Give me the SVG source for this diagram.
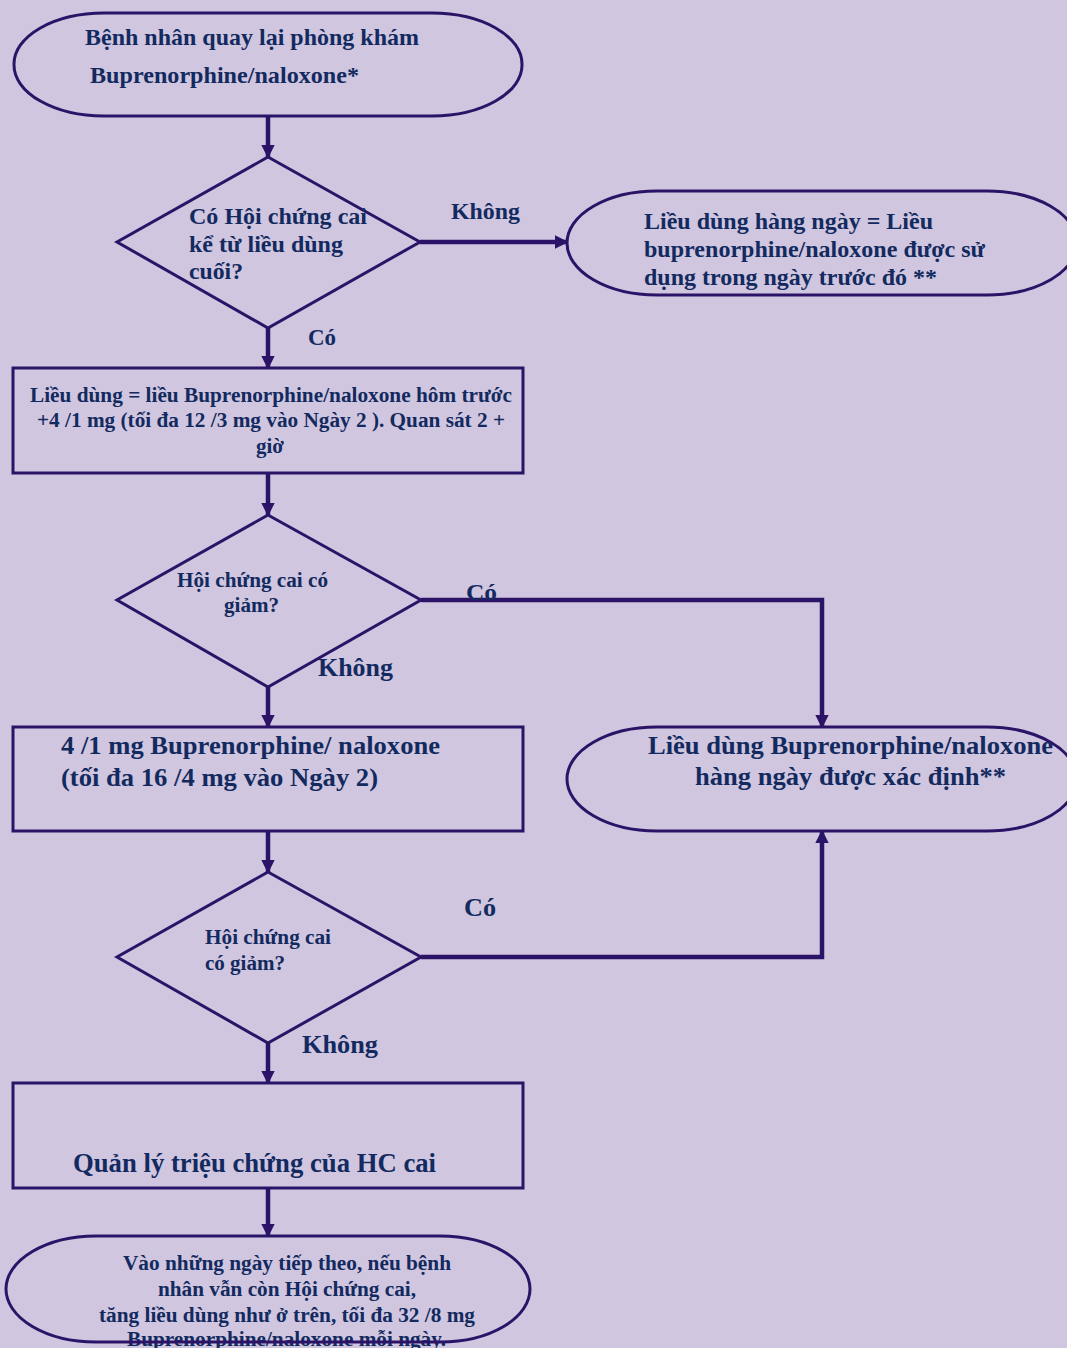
<svg xmlns="http://www.w3.org/2000/svg" width="1067" height="1348" viewBox="0 0 1067 1348">
  <style>
    .shape { fill: none; stroke: #2b1468; stroke-width: 3; }
    .conn { fill: none; stroke: #2b1468; stroke-width: 4.5; }
    text { font-family: "Liberation Serif", "Times New Roman", serif; font-weight: bold; fill: #132a60; }
    .t22 { font-size: 24px; }
    .t23 { font-size: 25px; }
    .t21 { font-size: 23px; }
    .t19 { font-size: 20.5px; }
    .t18 { font-size: 20px; }
    .t24 { font-size: 26.5px; }
  </style>
  <defs>
    <marker id="arrow" viewBox="0 0 10 10" refX="9" refY="5" markerWidth="3" markerHeight="3" orient="auto">
      <path d="M0,0 L10,5 L0,10 z" fill="#2b1468"/>
    </marker>
  </defs>

  <rect x="0" y="0" width="1067" height="1348" fill="#d0c6df"/>

  <!-- connectors -->
  <g id="connectors">
    <line class="conn" x1="268" y1="116" x2="268" y2="157" marker-end="url(#arrow)"/>
    <line class="conn" x1="420" y1="242" x2="567" y2="242" marker-end="url(#arrow)"/>
    <line class="conn" x1="268" y1="328" x2="268" y2="368" marker-end="url(#arrow)"/>
    <line class="conn" x1="268" y1="473" x2="268" y2="515" marker-end="url(#arrow)"/>
    <polyline class="conn" points="421,600 822,600 822,727" marker-end="url(#arrow)"/>
    <line class="conn" x1="268" y1="687" x2="268" y2="727" marker-end="url(#arrow)"/>
    <line class="conn" x1="268" y1="831" x2="268" y2="872" marker-end="url(#arrow)"/>
    <polyline class="conn" points="421,957 822,957 822,831" marker-end="url(#arrow)"/>
    <line class="conn" x1="268" y1="1043" x2="268" y2="1083" marker-end="url(#arrow)"/>
    <line class="conn" x1="268" y1="1188" x2="268" y2="1236" marker-end="url(#arrow)"/>

    <text class="t22" x="451" y="219" textLength="69" lengthAdjust="spacingAndGlyphs">Không</text>
    <text class="t22" x="308" y="345" textLength="28" lengthAdjust="spacingAndGlyphs">Có</text>
    <text class="t22" x="466" y="600" textLength="31" lengthAdjust="spacingAndGlyphs">Có</text>
    <text class="t23" x="318" y="676" textLength="75" lengthAdjust="spacingAndGlyphs">Không</text>
    <text class="t23" x="464" y="916" textLength="32" lengthAdjust="spacingAndGlyphs">Có</text>
    <text class="t23" x="302" y="1053" textLength="76" lengthAdjust="spacingAndGlyphs">Không</text>
  </g>

  <!-- start: patient returns -->
  <g id="start">
    <rect class="shape" x="14" y="13" width="508" height="103" rx="90" ry="51"/>
    <text class="t22" x="85" y="45" textLength="334" lengthAdjust="spacingAndGlyphs">Bệnh nhân quay lại phòng khám</text>
    <text class="t22" x="90" y="83" textLength="269" lengthAdjust="spacingAndGlyphs">Buprenorphine/naloxone*</text>
  </g>

  <!-- decision: withdrawal since last dose -->
  <g id="decision1">
    <polygon class="shape" points="268,157 420,242 268,328 117,242"/>
    <text class="t22" x="189" y="224" textLength="178" lengthAdjust="spacingAndGlyphs">Có Hội chứng cai</text>
    <text class="t22" x="189" y="252" textLength="154" lengthAdjust="spacingAndGlyphs">kể từ liều dùng</text>
    <text class="t22" x="189" y="279" textLength="54" lengthAdjust="spacingAndGlyphs">cuối?</text>
  </g>

  <!-- daily dose = previous day dose -->
  <g id="daily-dose">
    <rect class="shape" x="567" y="191" width="510" height="104" rx="90" ry="52"/>
    <text class="t21" x="644" y="229" textLength="289" lengthAdjust="spacingAndGlyphs">Liều dùng hàng ngày = Liều</text>
    <text class="t21" x="644" y="257" textLength="341" lengthAdjust="spacingAndGlyphs">buprenorphine/naloxone được sử</text>
    <text class="t21" x="644" y="285" textLength="293" lengthAdjust="spacingAndGlyphs">dụng trong ngày trước đó **</text>
  </g>

  <!-- increase dose +4/1 mg -->
  <g id="dose-plus">
    <rect class="shape" x="13" y="368" width="510" height="105"/>
    <text class="t19" x="30" y="402" textLength="482" lengthAdjust="spacingAndGlyphs">Liều dùng = liều Buprenorphine/naloxone hôm trước</text>
    <text class="t19" x="37" y="427" textLength="468" lengthAdjust="spacingAndGlyphs">+4 /1 mg (tối đa 12 /3 mg vào Ngày 2 ). Quan sát 2 +</text>
    <text class="t19" x="256" y="453" textLength="28" lengthAdjust="spacingAndGlyphs">giờ</text>
  </g>

  <!-- decision: withdrawal reduced? -->
  <g id="decision2">
    <polygon class="shape" points="268,515 421,600 268,687 117,600"/>
    <text class="t18" x="177" y="587" textLength="151" lengthAdjust="spacingAndGlyphs">Hội chứng cai có</text>
    <text class="t18" x="224" y="612" textLength="55" lengthAdjust="spacingAndGlyphs">giảm?</text>
  </g>

  <!-- additional 4/1 mg -->
  <g id="dose-extra">
    <rect class="shape" x="13" y="727" width="510" height="104"/>
    <text class="t23" x="61" y="754" textLength="379" lengthAdjust="spacingAndGlyphs">4 /1 mg Buprenorphine/ naloxone</text>
    <text class="t23" x="61" y="786" textLength="317" lengthAdjust="spacingAndGlyphs">(tối đa 16 /4 mg vào Ngày 2)</text>
  </g>

  <!-- daily dose determined -->
  <g id="dose-determined">
    <rect class="shape" x="567" y="727" width="510" height="104" rx="90" ry="52"/>
    <text class="t23" x="648" y="754" textLength="405" lengthAdjust="spacingAndGlyphs">Liều dùng Buprenorphine/naloxone</text>
    <text class="t23" x="695" y="785" textLength="311" lengthAdjust="spacingAndGlyphs">hàng ngày được xác định**</text>
  </g>

  <!-- decision: withdrawal reduced? (second check) -->
  <g id="decision3">
    <polygon class="shape" points="268,872 421,957 268,1043 117,957"/>
    <text class="t18" x="205" y="944" textLength="126" lengthAdjust="spacingAndGlyphs">Hội chứng cai</text>
    <text class="t18" x="205" y="970" textLength="80" lengthAdjust="spacingAndGlyphs">có giảm?</text>
  </g>

  <!-- symptomatic management -->
  <g id="symptom-mgmt">
    <rect class="shape" x="13" y="1083" width="510" height="105"/>
    <text class="t24" x="73" y="1172" textLength="363" lengthAdjust="spacingAndGlyphs">Quản lý triệu chứng của HC cai</text>
  </g>

  <!-- following days -->
  <g id="following-days">
    <text class="t19" x="123" y="1270" textLength="328" lengthAdjust="spacingAndGlyphs">Vào những ngày tiếp theo, nếu bệnh</text>
    <text class="t19" x="158" y="1296" textLength="258" lengthAdjust="spacingAndGlyphs">nhân vẫn còn Hội chứng cai,</text>
    <text class="t19" x="99" y="1322" textLength="376" lengthAdjust="spacingAndGlyphs">tăng liều dùng như ở trên, tối đa 32 /8 mg</text>
    <text class="t19" x="127" y="1346" textLength="319" lengthAdjust="spacingAndGlyphs">Buprenorphine/naloxone mỗi ngày.</text>
    <rect class="shape" x="6" y="1236" width="524" height="106" rx="90" ry="53"/>
  </g>
</svg>
